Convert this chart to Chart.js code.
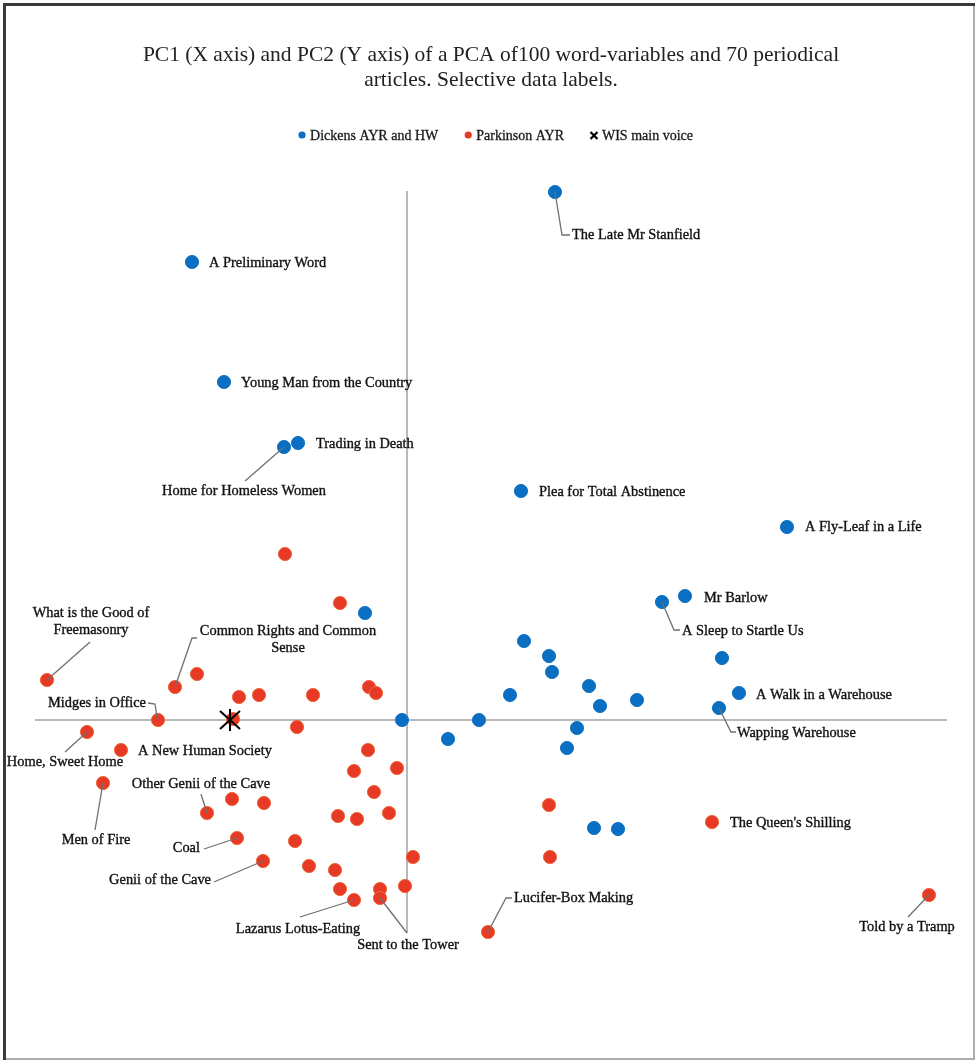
<!DOCTYPE html>
<html>
<head>
<meta charset="utf-8">
<script src="https://cdn.jsdelivr.net/npm/chart.js@4.4.1/dist/chart.umd.min.js"></script>
<style>
  html, body { margin: 0; padding: 0; background: #ffffff; }
  canvas { display: block; }
</style>
</head>
<body>
<canvas id="pca" width="975" height="1060"></canvas>
<script>
// PC1 / PC2 scores of the 70 periodical articles ('' = article left unlabelled)
const dickensNames = [
  'The Late Mr Stanfield', 'A Preliminary Word', 'Young Man from the Country', 'Trading in Death',
  'Home for Homeless Women', 'Plea for Total Abstinence', 'A Fly-Leaf in a Life', 'Mr Barlow',
  'A Sleep to Startle Us', '', '', '', '', '', '', '', '', '',
  'A Walk in a Warehouse', 'Wapping Warehouse', '', '', '', '', '', '', ''
];
const dickensPC1 = [1.48, -2.15, -1.83, -1.09, -1.23, 1.14, 3.80, 2.78, 2.55, -0.42, 1.17, 1.42, 1.45, 3.15,
  1.82, 1.03, 1.93, 2.30, 3.32, 3.12, -0.05, 0.72, 0.41, 1.70, 1.60, 1.87, 2.11];
const dickensPC2 = [5.28, 4.58, 3.38, 2.77, 2.73, 2.29, 1.93, 1.24, 1.18, 1.07, 0.79, 0.64, 0.48, 0.62,
  0.34, 0.25, 0.14, 0.20, 0.27, 0.12, 0.00, 0.00, -0.19, -0.08, -0.28, -1.08, -1.09];

const parkinsonNames = [
  '', '', 'What is the Good of Freemasonry', '', 'Common Rights and Common Sense', '', '', '', '', '',
  'Midges in Office', '', '', 'Home, Sweet Home', 'A New Human Society', '', '', '', 'Men of Fire', '',
  '', 'Other Genii of the Cave', '', '', '', '', '', 'Coal', '', '',
  '', 'Genii of the Cave', '', '', '', '', '', 'Lazarus Lotus-Eating', 'Sent to the Tower',
  "The Queen's Shilling", 'Lucifer-Box Making', 'Told by a Tramp'
];
const parkinsonPC1 = [-1.22, -0.67, -3.60, -2.10, -2.32, -1.68, -1.48, -0.94, -0.38, -0.31,
  -2.49, -1.74, -1.10, -3.20, -2.86, -0.39, -0.53, -0.10, -3.04, -1.75,
  -1.43, -2.00, -0.33, -0.69, -0.50, -0.18, 1.42, -1.70, -1.12, 0.06,
  1.43, -1.44, -0.98, -0.72, -0.67, -0.27, -0.02, -0.53, -0.27, 3.05, 0.81, 5.22];
const parkinsonPC2 = [1.66, 1.17, 0.40, 0.46, 0.33, 0.23, 0.25, 0.25, 0.33, 0.27,
  0.00, 0.01, -0.07, -0.12, -0.30, -0.30, -0.51, -0.48, -0.63, -0.79,
  -0.83, -0.93, -0.72, -0.96, -0.99, -0.93, -0.85, -1.18, -1.21, -1.37,
  -1.37, -1.41, -1.46, -1.50, -1.69, -1.69, -1.66, -1.80, -1.78, -1.02, -2.12, -1.75];

const wisPC1 = [-1.77];
const wisPC2 = [0.00];

const seriesLabels = ['Dickens AYR and HW', 'Parkinson AYR', 'WIS main voice'];
const titleLines = [
  'PC1 (X axis) and PC2 (Y axis) of a PCA of100 word-variables and 70 periodical',
  'articles. Selective data labels.'
];
const pc1Range = [-3.72, 5.40];
const pc2Range = [-2.13, 5.29];

// ---- styling ----
const BLUE = '#0a6fc2';
const RED = '#e63a27';
const SERIF = "'Liberation Serif', 'Times New Roman', serif";

// where each data label sits relative to its point (pixels), with optional leader line
const labelPlacement = {
  'The Late Mr Stanfield':       { dx: 17, dy: 43, align: 'left', leader: [[7, 43], [15, 43]] },
  'A Preliminary Word':          { dx: 17, dy: 1, align: 'left' },
  'Young Man from the Country':  { dx: 17, dy: 1, align: 'left' },
  'Trading in Death':            { dx: 18, dy: 1, align: 'left' },
  'Home for Homeless Women':     { dx: -40, dy: 44, align: 'center', leader: [[-39, 34]] },
  'Plea for Total Abstinence':   { dx: 18, dy: 1, align: 'left' },
  'A Fly-Leaf in a Life':        { dx: 18, dy: 0, align: 'left' },
  'Mr Barlow':                   { dx: 19, dy: 2, align: 'left' },
  'A Sleep to Startle Us':       { dx: 20, dy: 29, align: 'left', leader: [[12, 28], [18, 28]] },
  'A Walk in a Warehouse':       { dx: 17, dy: 2, align: 'left' },
  'Wapping Warehouse':           { dx: 18, dy: 25, align: 'left', leader: [[12, 24], [17, 24]] },

  'What is the Good of Freemasonry': { dx: 44, dy: -67, align: 'center', breakAfter: 5, leader: [[43, -38]] },
  'Common Rights and Common Sense':  { dx: 113, dy: -56, align: 'center', breakAfter: 4, leader: [[17, -49], [22, -49]] },
  'Midges in Office':            { dx: -12, dy: -17, align: 'right', leader: [[-3, -16], [-1, -3]], leaderFrom: [-10, -17] },
  'Home, Sweet Home':            { dx: -22, dy: 30, align: 'center', leader: [[-22, 20]] },
  'A New Human Society':         { dx: 17, dy: 1, align: 'left' },
  'Men of Fire':                 { dx: -7, dy: 57, align: 'center', leader: [[-8, 47]] },
  'Other Genii of the Cave':     { dx: -6, dy: -29, align: 'center', leader: [[-6, -19]] },
  'Coal':                        { dx: -37, dy: 10, align: 'right', leader: [[-33, 11]] },
  'Genii of the Cave':           { dx: -52, dy: 19, align: 'right', leader: [[-49, 21]] },
  'Lazarus Lotus-Eating':        { dx: -56, dy: 29, align: 'center', leader: [[-54, 17]] },
  'Sent to the Tower':           { dx: 28, dy: 47, align: 'center', leader: [[27, 35]] },
  "The Queen's Shilling":        { dx: 18, dy: 1, align: 'left' },
  'Lucifer-Box Making':          { dx: 26, dy: -34, align: 'left', leader: [[18, -34], [24, -34]] },
  'Told by a Tramp':             { dx: -22, dy: 32, align: 'center', leader: [[-21, 22]] }
};

function toPoints(xs, ys) {
  return xs.map((x, i) => ({ x: x, y: ys[i] }));
}

// asterisk-like marker (X plus vertical stroke) for the WIS main voice
function makeStarMarker() {
  const c = document.createElement('canvas');
  c.width = 24; c.height = 24;
  const g = c.getContext('2d');
  g.strokeStyle = '#000';
  g.lineWidth = 2;
  g.lineCap = 'butt';
  g.beginPath();
  g.moveTo(2, 3); g.lineTo(22, 21);
  g.moveTo(22, 3); g.lineTo(2, 21);
  g.moveTo(12, 1); g.lineTo(12, 23);
  g.stroke();
  return c;
}

const frameAndAxes = {
  id: 'frameAndAxes',
  beforeDraw(chart) {
    const { ctx, width, height } = chart;
    ctx.save();
    ctx.fillStyle = '#ffffff';
    ctx.fillRect(0, 0, width, height);
    ctx.restore();
  },
  beforeDatasetsDraw(chart) {
    const { ctx, chartArea, scales } = chart;
    const x0 = scales.x.getPixelForValue(0);
    const y0 = scales.y.getPixelForValue(0);
    ctx.save();
    ctx.strokeStyle = '#a3a3a3';
    ctx.lineWidth = 1.5;
    ctx.beginPath();
    ctx.moveTo(chartArea.left, y0); ctx.lineTo(chartArea.right, y0);
    ctx.moveTo(x0, chartArea.top); ctx.lineTo(x0, chartArea.bottom);
    ctx.stroke();
    ctx.restore();
  },
  afterDraw(chart) {
    const { ctx, width, height } = chart;
    ctx.save();
    // picture frame
    ctx.fillStyle = '#3a3a3a';
    ctx.fillRect(3, 3, width - 3, 3);
    ctx.fillRect(3, 3, 3, height - 3);
    ctx.fillStyle = '#ababab';
    ctx.fillRect(width - 2, 6, 2, height - 6);
    ctx.fillRect(6, height - 2, width - 6, 2);
    ctx.restore();
  }
};

const legendRow = {
  id: 'legendRow',
  afterDraw(chart) {
    const { ctx } = chart;
    const y = 135;
    const gapAfter = 27;
    ctx.save();
    ctx.font = '14px ' + SERIF;
    ctx.textBaseline = 'middle';
    const items = chart.data.datasets.map(ds => ({
      text: ds.label,
      color: ds.legendColor,
      kind: ds.legendMarker
    }));
    const widths = items.map(it => 11 + ctx.measureText(it.text).width);
    const total = widths.reduce((a, b) => a + b, 0) + gapAfter * (items.length - 1);
    let x = 496 - total / 2;
    items.forEach((it, i) => {
      const cx = x + 3;
      if (it.kind === 'dot') {
        ctx.fillStyle = it.color;
        ctx.beginPath();
        ctx.arc(cx, y, 3.6, 0, Math.PI * 2);
        ctx.fill();
      } else {
        ctx.strokeStyle = '#000';
        ctx.lineWidth = 2.2;
        ctx.beginPath();
        ctx.moveTo(cx - 3.5, y - 3); ctx.lineTo(cx + 3.5, y + 4);
        ctx.moveTo(cx + 3.5, y - 3); ctx.lineTo(cx - 3.5, y + 4);
        ctx.stroke();
      }
      ctx.fillStyle = '#1a1a1a';
      ctx.strokeStyle = '#1a1a1a';
      ctx.lineWidth = 0.3;
      ctx.textAlign = 'left';
      ctx.fillText(it.text, x + 11, y + 1);
      ctx.strokeText(it.text, x + 11, y + 1);
      x += widths[i] + gapAfter;
    });
    ctx.restore();
  }
};

const dataLabels = {
  id: 'dataLabels',
  afterDatasetsDraw(chart) {
    const { ctx } = chart;
    const sets = [dickensNames, parkinsonNames];
    ctx.save();
    ctx.font = '14.4px ' + SERIF;
    ctx.textBaseline = 'middle';
    sets.forEach((names, di) => {
      const meta = chart.getDatasetMeta(di);
      names.forEach((name, i) => {
        if (!name) return;
        const place = labelPlacement[name];
        if (!place) return;
        const pt = meta.data[i];
        const px = pt.x, py = pt.y;
        if (place.leader) {
          ctx.strokeStyle = '#707070';
          ctx.lineWidth = 1.3;
          ctx.beginPath();
          const start = place.leaderFrom || [0, 0];
          ctx.moveTo(px + start[0], py + start[1]);
          place.leader.forEach(p => ctx.lineTo(px + p[0], py + p[1]));
          if (place.leaderFrom) ctx.lineTo(px, py);
          ctx.stroke();
        }
        let lines = [name];
        if (place.breakAfter) {
          const words = name.split(' ');
          lines = [words.slice(0, place.breakAfter).join(' '), words.slice(place.breakAfter).join(' ')];
        }
        ctx.fillStyle = '#111111';
        ctx.strokeStyle = '#111111';
        ctx.lineWidth = 0.35;
        ctx.textAlign = place.align;
        lines.forEach((ln, k) => {
          ctx.fillText(ln, px + place.dx, py + place.dy + k * 17);
          ctx.strokeText(ln, px + place.dx, py + place.dy + k * 17);
        });
      });
    });
    ctx.restore();
  }
};

new Chart(document.getElementById('pca'), {
  type: 'scatter',
  data: {
    datasets: [
      {
        label: seriesLabels[0],
        data: toPoints(dickensPC1, dickensPC2),
        backgroundColor: BLUE,
        borderColor: '#1a78c6',
        borderWidth: 1,
        pointRadius: 6.6,
        pointHoverRadius: 6.6,
        clip: false,
        order: 2,
        legendColor: BLUE,
        legendMarker: 'dot'
      },
      {
        label: seriesLabels[1],
        data: toPoints(parkinsonPC1, parkinsonPC2),
        backgroundColor: RED,
        borderColor: '#f0683a',
        borderWidth: 1,
        pointRadius: 6.6,
        pointHoverRadius: 6.6,
        clip: false,
        order: 3,
        legendColor: RED,
        legendMarker: 'dot'
      },
      {
        label: seriesLabels[2],
        data: toPoints(wisPC1, wisPC2),
        pointStyle: makeStarMarker(),
        clip: false,
        order: 1,
        legendColor: '#000',
        legendMarker: 'cross'
      }
    ]
  },
  options: {
    responsive: false,
    animation: false,
    events: [],
    layout: { autoPadding: false, padding: { left: 35, right: 28, top: 0, bottom: 127 } },
    scales: {
      x: { type: 'linear', display: false, min: pc1Range[0], max: pc1Range[1] },
      y: { type: 'linear', display: false, min: pc2Range[0], max: pc2Range[1] }
    },
    plugins: {
      legend: { display: false },
      tooltip: { enabled: false },
      title: {
        display: true,
        text: titleLines,
        color: '#222222',
        font: { family: SERIF, size: 21.5, weight: 'normal', lineHeight: 1.163 },
        padding: { top: 42.5, bottom: 98.5 }
      }
    }
  },
  plugins: [frameAndAxes, legendRow, dataLabels]
});
</script>
</body>
</html>
